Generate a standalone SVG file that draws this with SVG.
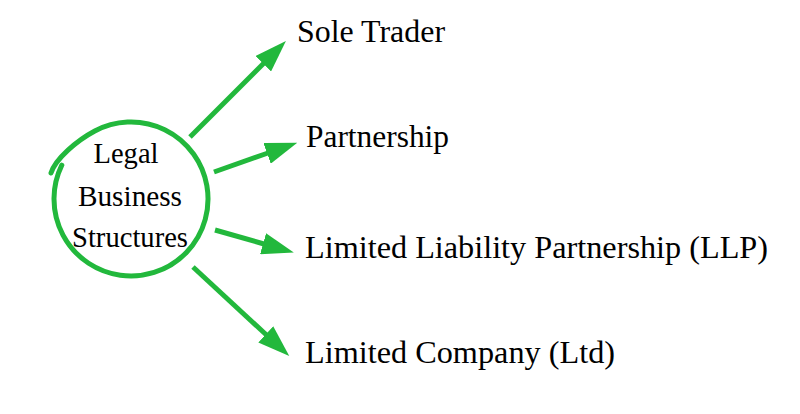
<svg xmlns="http://www.w3.org/2000/svg" width="800" height="414" viewBox="0 0 800 414">
  <style>
    .lbl { font-family: "Liberation Serif", "Times New Roman", serif; fill: #000; }
    .big { font-size: 32px; }
    .small { font-size: 29px; text-anchor: middle; }
    .arrow { stroke: #22b83c; stroke-width: 5; fill: none; marker-end: url(#head); }
  </style>
  <defs>
    <marker id="head" markerUnits="userSpaceOnUse" viewBox="0 -11 32 22" markerWidth="32" markerHeight="22" refX="1" refY="0" orient="auto">
      <path d="M0,-11 L32,0 L0,11 z" fill="#22b83c"/>
    </marker>
  </defs>
  <rect width="800" height="414" fill="#ffffff"/>

  <g id="center">
    <path d="M 61.8 165.2 A 77 77 0 1 0 94.8 131 C 77.1 140.4 55.6 158.7 51 173" fill="none" stroke="#22b83c" stroke-width="5" stroke-linecap="round"/>
    <text class="lbl small" x="126" y="163" textLength="65" lengthAdjust="spacingAndGlyphs">Legal</text>
    <text class="lbl small" x="130" y="206" textLength="104" lengthAdjust="spacingAndGlyphs">Business</text>
    <text class="lbl small" x="130" y="247" textLength="116" lengthAdjust="spacingAndGlyphs">Structures</text>
  </g>

  <g id="connectors">
    <line class="arrow" x1="190" y1="137" x2="264" y2="63"/>
    <line class="arrow" x1="214" y1="172" x2="268" y2="153"/>
    <line class="arrow" x1="215" y1="230" x2="264" y2="244"/>
    <line class="arrow" x1="193" y1="267" x2="266.5" y2="335"/>
  </g>

  <g id="sole-trader">
    <text class="lbl big" x="297" y="42" textLength="148" lengthAdjust="spacingAndGlyphs">Sole Trader</text>
  </g>
  <g id="partnership">
    <text class="lbl big" x="306" y="147" textLength="143" lengthAdjust="spacingAndGlyphs">Partnership</text>
  </g>
  <g id="llp">
    <text class="lbl big" x="305" y="258" textLength="463" lengthAdjust="spacingAndGlyphs">Limited Liability Partnership (LLP)</text>
  </g>
  <g id="ltd">
    <text class="lbl big" x="305" y="363" textLength="310" lengthAdjust="spacingAndGlyphs">Limited Company (Ltd)</text>
  </g>
</svg>
